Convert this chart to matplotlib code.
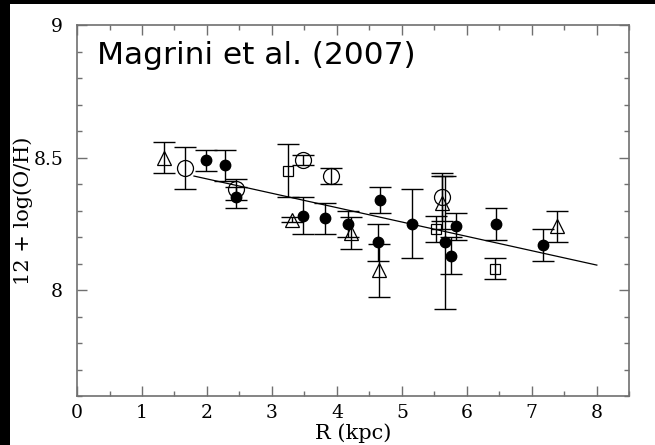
import matplotlib
matplotlib.use("Agg")
import matplotlib.pyplot as plt
from matplotlib.patches import Rectangle
from matplotlib.ticker import MultipleLocator

# filled circles
fx = [1.98, 2.28, 2.44, 3.48, 3.82, 4.17, 4.66, 4.63, 5.16, 5.67, 5.75, 5.83, 6.45, 7.17]
fy = [8.49, 8.47, 8.35, 8.28, 8.27, 8.25, 8.34, 8.18, 8.25, 8.18, 8.13, 8.24, 8.25, 8.17]
fe = [0.04, 0.06, 0.04, 0.07, 0.06, 0.05, 0.05, 0.07, 0.13, 0.25, 0.07, 0.05, 0.06, 0.06]

# open circles
ox = [1.66, 2.44, 3.48, 3.91, 5.61]
oy = [8.46, 8.38, 8.49, 8.43, 8.35]
oe = [0.08, 0.04, 0.02, 0.03, 0.09]

# open triangles
tx = [1.34, 3.31, 4.21, 4.65, 5.61, 7.38]
ty = [8.50, 8.265, 8.215, 8.075, 8.33, 8.24]
te = [0.06, 0.01, 0.06, 0.10, 0.10, 0.06]

# open squares
sx = [3.24, 5.53, 6.44]
sy = [8.45, 8.23, 8.08]
se = [0.10, 0.05, 0.04]

# gradient fit
lx = [1.8, 8.0]
ly = [8.43, 8.094]

xticks = [0, 1, 2, 3, 4, 5, 6, 7, 8]
yticks = [8, 8.5, 9]
ytick_labels = ["8", "8.5", "9"]

serif = "DejaVu Serif"
gray = "#707070"

fig = plt.figure(figsize=(6.55, 4.45), dpi=100)
ax = fig.add_axes([0.1176, 0.1101, 0.9608 - 0.1176, 0.9438 - 0.1101])

ebkw = dict(fmt="none", ecolor="black", elinewidth=1.0, capsize=8, capthick=1.0, zorder=2)
ax.errorbar(fx, fy, yerr=fe, **ebkw)
ax.errorbar(ox, oy, yerr=oe, **ebkw)
ax.errorbar(tx, ty, yerr=te, **ebkw)
ax.errorbar(sx, sy, yerr=se, **ebkw)

ax.plot(fx, fy, "o", ms=7.5, mfc="black", mec="black", ls="none", zorder=3)
ax.plot(ox, oy, "o", ms=11.5, mfc="none", mec="black", mew=0.9, ls="none", zorder=3)
ax.plot(tx, ty, "^", ms=9.5, mfc="none", mec="black", mew=0.9, ls="none", zorder=3)
ax.plot(sx, sy, "s", ms=7, mfc="none", mec="black", mew=0.9, ls="none", zorder=3)

ax.plot(lx, ly, "-", color="black", lw=0.9, zorder=2)

ax.set_xlim(0, 8.5)
ax.set_ylim(7.6, 9)
ax.set_xticks(xticks)
ax.set_yticks(yticks)
ax.set_yticklabels(ytick_labels)
ax.xaxis.set_minor_locator(MultipleLocator(0.5))
ax.yaxis.set_minor_locator(MultipleLocator(0.1))

ax.tick_params(which="both", direction="in", top=True, right=True, color=gray, width=1.0)
ax.tick_params(which="major", length=7.5)
ax.tick_params(which="minor", length=3.8)
ax.tick_params(axis="y", which="major", pad=10)
ax.tick_params(axis="x", which="major", pad=6)
for lab in ax.get_xticklabels() + ax.get_yticklabels():
    lab.set_fontfamily(serif)
    lab.set_fontsize(13.5)

for sp in ax.spines.values():
    sp.set_color(gray)
    sp.set_linewidth(1.2)

ax.set_xlabel("R (kpc)", fontfamily=serif, fontsize=15, labelpad=1)
ax.set_ylabel("12 + log(O/H)", fontfamily=serif, fontsize=15, labelpad=0)

ax.text(0.036, 0.895, "Magrini et al. (2007)", transform=ax.transAxes,
        fontfamily="DejaVu Sans", fontsize=22.5, color="black")

# black strips at the top and left edges of the image
fig.patches.append(Rectangle((0, 1 - 3.5 / 445), 1, 3.5 / 445, transform=fig.transFigure,
                             facecolor="black", edgecolor="none", zorder=10))
fig.patches.append(Rectangle((0, 0), 9.5 / 655, 1, transform=fig.transFigure,
                             facecolor="black", edgecolor="none", zorder=10))

fig.savefig("out.png", dpi=100)
